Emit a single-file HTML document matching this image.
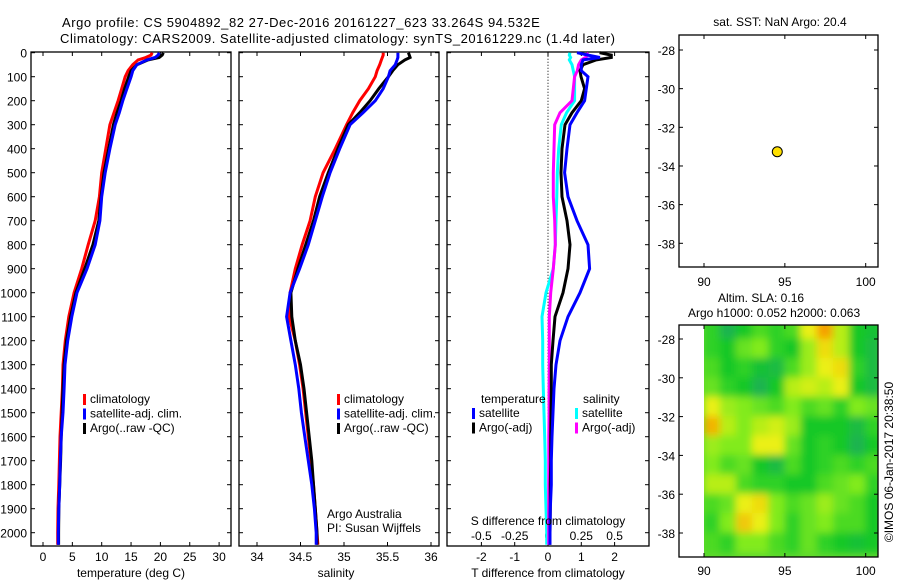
<!DOCTYPE html>
<html><head><meta charset="utf-8">
<style>
html,body{margin:0;padding:0;background:#fff;}
svg{display:block;font-family:"Liberation Sans",sans-serif;font-size:12px;}
.ttl{font-size:13px;letter-spacing:0.55px;}
</style></head>
<body>
<svg id="chart" width="900" height="580" viewBox="0 0 900 580">
<text class="ttl" x="62" y="27">Argo profile: CS 5904892_82 27-Dec-2016 20161227_623 33.264S 94.532E</text>
<text class="ttl" x="60" y="43">Climatology: CARS2009. Satellite-adjusted climatology: synTS_20161229.nc (1.4d later)</text>
<g id="p1"></g>
<g id="p2"></g>
<g id="p3"></g>
<g id="m1"></g>
<g id="m2"></g>
</svg>
<script>
const depths = [0,10,20,30,50,75,100,150,200,250,300,400,500,600,700,800,900,1000,1100,1200,1300,1400,1500,1600,1700,1800,1900,2000,2050];
const tempClim = [18.6,18.4,17.5,16.2,15.3,14.5,14.0,13.4,12.8,12.1,11.4,10.7,10.0,9.6,8.9,7.7,6.6,5.3,4.4,3.8,3.4,3.3,3.1,2.9,2.8,2.7,2.55,2.5,2.5];
const tempSat = [19.8,19.6,19.1,17.7,16.0,15.3,15.0,14.3,13.6,13.0,12.3,11.4,10.6,10.0,9.7,8.9,7.5,5.8,4.9,4.2,3.75,3.6,3.4,3.1,2.95,2.85,2.7,2.6,2.6];
const tempArgo = [20.5,20.3,19.8,17.9,16.0,15.0,14.6,13.9,13.3,12.6,12.0,11.2,10.4,9.9,9.5,8.5,7.1,5.6,4.7,4.0,3.6,3.4,3.25,3.1,3.0,2.85,2.7,2.65,2.65];
const salClim = [35.45,35.45,35.44,35.43,35.41,35.38,35.36,35.28,35.18,35.10,35.03,34.90,34.76,34.67,34.61,34.52,34.44,34.38,34.37,34.44,34.49,34.53,34.56,34.59,34.62,34.65,34.67,34.69,34.70];
const salSat = [35.62,35.62,35.62,35.61,35.59,35.53,35.51,35.45,35.36,35.22,35.07,34.95,34.84,34.75,34.67,34.59,34.49,34.38,34.34,34.39,34.44,34.48,34.51,34.55,34.59,34.63,34.66,34.68,34.68];
const salArgo = [35.74,35.75,35.76,35.70,35.62,35.56,35.51,35.40,35.30,35.18,35.05,34.93,34.82,34.72,34.65,34.56,34.47,34.39,34.40,34.44,34.50,34.54,34.57,34.60,34.63,34.65,34.67,34.69,34.69];
const dTSat = [0.87,1.2,1.56,1.05,1.0,1.0,1.2,1.15,1.1,0.87,0.66,0.57,0.5,0.6,0.87,1.2,1.25,0.96,0.6,0.36,0.24,0.18,0.15,0.12,0.1,0.1,0.07,0.06,0.06];
const dTArgo = [1.55,1.9,1.9,1.45,1.05,0.96,0.99,1.1,1.0,0.72,0.51,0.42,0.39,0.42,0.57,0.66,0.6,0.45,0.21,0.15,0.1,0.1,0.09,0.08,0.08,0.07,0.07,0.06,0.06];
const dSSat = [0.165,0.16,0.17,0.16,0.18,0.19,0.2,0.2,0.2,0.14,0.1,0.08,0.07,0.066,0.06,0.055,0.04,-0.015,-0.045,-0.04,-0.04,-0.035,-0.03,-0.025,-0.02,-0.02,-0.015,-0.01,-0.01];
const dSArgo = [0.29,0.3,0.28,0.25,0.23,0.22,0.2,0.19,0.18,0.09,0.05,0.045,0.04,0.04,0.05,0.055,0.04,0.02,0.01,0.01,0.01,0.008,0.008,0.006,0.006,0.005,0.005,0.005,0.005];
const depthTicks = [0,100,200,300,400,500,600,700,800,900,1000,1100,1200,1300,1400,1500,1600,1700,1800,1900,2000];
const tempTicks = [0,5,10,15,20,25,30];
const salTicks = [34,34.5,35,35.5,36];
const salTickLabels = ["34","34.5","35","35.5","36"];
const dTTicks = [-2,-1,0,1,2];
const dSTicks = [-0.5,-0.25,0,0.25,0.5];
const dSTickLabels = ["-0.5","-0.25","0","0.25","0.5"];
const latTicks = [-28,-30,-32,-34,-36,-38];
const lonTicks = [90,95,100];
const floatLon = 94.532, floatLat = -33.264;
const slaLats = [-27.5,-28.5,-29.5,-30.5,-31.5,-32.5,-33.5,-34.5,-35.5,-36.5,-37.5,-38.5];
const slaLons = [90.5,91.5,92.5,93.5,94.5,95.5,96.5,97.5,98.5,99.5,100.5];
const slaValues = [
[.35,.15,.3,.4,.35,.4,.7,.9,.6,.3,.25],
[.35,.3,.45,.5,.35,.3,.55,.75,.6,.3,.2],
[.4,.3,.35,.25,.2,.4,.55,.7,.75,.35,.2],
[.45,.35,.3,.15,.3,.6,.65,.6,.7,.3,.2],
[.7,.55,.5,.45,.4,.5,.4,.45,.35,.5,.45],
[.85,.6,.5,.6,.65,.55,.3,.3,.3,.2,.35],
[.55,.5,.5,.7,.7,.45,.3,.35,.3,.15,.3],
[.5,.4,.45,.3,.2,.4,.3,.35,.4,.35,.4],
[.6,.6,.4,.35,.35,.3,.3,.4,.45,.5,.35],
[.4,.45,.7,.75,.5,.4,.45,.55,.45,.4,.3],
[.35,.5,.8,.7,.5,.35,.45,.5,.4,.4,.3],
[.4,.35,.5,.5,.4,.35,.45,.35,.3,.25,.3]];

const NS="http://www.w3.org/2000/svg";
function mk(parent,tag,attrs,txt){const e=document.createElementNS(NS,tag);for(const k in attrs)e.setAttribute(k,attrs[k]);if(txt!==undefined)e.textContent=txt;parent.appendChild(e);return e;}
const TOP=52.7, PX100=24.0, BOT=546;
const yD = d => TOP + d*PX100/100;

function frame(g,x0,x1,y0,y1){
  const r=mk(g,'rect',{x:x0,y:y0,width:x1-x0,height:y1-y0,fill:'none',stroke:'#000','stroke-width':1.3});
  
}
function line(g,xs,ys,color,name){
  let d='';for(let i=0;i<xs.length;i++){d+=(i?'L':'M')+xs[i].toFixed(1)+','+ys[i].toFixed(1);}
  const p=mk(g,'path',{d:d,fill:'none',stroke:color,'stroke-width':3,'stroke-linejoin':'miter'});
  
}
function depthAxis(g,x0,x1,labels){
  depthTicks.forEach(d=>{
    const y=yD(d);
    mk(g,'line',{x1:x0,x2:x0+4,y1:y,y2:y,stroke:'#000'});
    mk(g,'line',{x1:x1-4,x2:x1,y1:y,y2:y,stroke:'#000'});
    if(labels){const t=mk(g,'text',{x:x0-4,y:y+5,'text-anchor':'end'},String(d));
      }
  });
}
function xTicks(g,vals,labs,sx,ly,top){
  vals.forEach((v,i)=>{const x=sx(v);
    mk(g,'line',{x1:x,x2:x,y1:BOT,y2:BOT-4,stroke:'#000'});
    if(top)mk(g,'line',{x1:x,x2:x,y1:TOP-0.7,y2:TOP+3.3,stroke:'#000'});
    if(ly){const t=mk(g,'text',{x:x,y:ly,'text-anchor':'middle'},labs[i]);
      }
  });
}
function legend(g,x,y,items){
  items.forEach((it,i)=>{const yy=y+i*14.5;
    const r=mk(g,'rect',{x:x,y:yy-9,width:3,height:11,fill:it[0]});
    
    const t=mk(g,'text',{x:x+7,y:yy},it[1]);
    
  });
}
const ys = depths.map(yD);
{const g=document.getElementById('p1');const x0=31,x1=231;const sx=t=>43+5.87*t;
 frame(g,x0,x1,TOP-0.7,BOT);depthAxis(g,x0,x1,true);xTicks(g,tempTicks,tempTicks.map(String),sx,561,true);
 line(g,tempClim.map(sx),ys,'#f00','temp-climatology-line');
 line(g,tempArgo.map(sx),ys,'#000','temp-argo-line');
 line(g,tempSat.map(sx),ys,'#00f','temp-satellite-line');
 legend(g,83,403,[['#f00','climatology'],['#00f','satellite-adj. clim.'],['#000','Argo(..raw -QC)']]);
 const t=mk(g,'text',{x:131,y:577,'text-anchor':'middle'},'temperature (deg C)');}
{const g=document.getElementById('p2');const x0=239,x1=439;const sx=s=>257+87*(s-34);
 frame(g,x0,x1,TOP-0.7,BOT);depthAxis(g,x0,x1,false);xTicks(g,salTicks,salTickLabels,sx,561,true);
 line(g,salClim.map(sx),ys,'#f00','sal-climatology-line');
 line(g,salArgo.map(sx),ys,'#000','sal-argo-line');
 line(g,salSat.map(sx),ys,'#00f','sal-satellite-line');
 legend(g,337,403,[['#f00','climatology'],['#00f','satellite-adj. clim.'],['#000','Argo(..raw -QC)']]);
 let t=mk(g,'text',{x:327,y:518},'Argo Australia');
 t=mk(g,'text',{x:327,y:532},'PI: Susan Wijffels');
 t=mk(g,'text',{x:336,y:577,'text-anchor':'middle'},'salinity');}
{const g=document.getElementById('p3');const x0=447,x1=649;const sxT=t=>548+33.3*t;const sxS=s=>548+133.2*s;
 frame(g,x0,x1,TOP-0.7,BOT);depthAxis(g,x0,x1,false);
 mk(g,'line',{x1:548,x2:548,y1:TOP,y2:BOT,stroke:'#000','stroke-dasharray':'1,2'});
 xTicks(g,dTTicks,dTTicks.map(String),sxT,561,true);
 dSTicks.forEach((v,i)=>{const t=mk(g,'text',{x:sxS(v),y:540,'text-anchor':'middle'},dSTickLabels[i]);});
 line(g,dSSat.map(sxS),ys,'#0ff','s-diff-satellite-line');
 line(g,dSArgo.map(sxS),ys,'#f0f','s-diff-argo-line');
 line(g,dTArgo.map(sxT),ys,'#000','t-diff-argo-line');
 line(g,dTSat.map(sxT),ys,'#00f','t-diff-satellite-line');
 let t=mk(g,'text',{x:481,y:403},'temperature');
 t=mk(g,'text',{x:583,y:403},'salinity');
 legend(g,472,417,[['#00f','satellite'],['#000','Argo(-adj)']]);
 legend(g,575,417,[['#0ff','satellite'],['#f0f','Argo(-adj)']]);
 t=mk(g,'text',{x:548,y:525,'text-anchor':'middle'},'S difference from climatology');
 t=mk(g,'text',{x:548,y:577,'text-anchor':'middle'},'T difference from climatology');}
function mapAxes(g,x0,x1,y0,y1,lx,ly0,lyScale,lx0,lxScale,xlabY){
  frame(g,x0,x1,y0,y1);
  latTicks.forEach(v=>{const y=ly0+(v-(-28))*lyScale;
    mk(g,'line',{x1:x0,x2:x0+4,y1:y,y2:y,stroke:'#000'});mk(g,'line',{x1:x1-4,x2:x1,y1:y,y2:y,stroke:'#000'});
    const t=mk(g,'text',{x:x0-4,y:y+5,'text-anchor':'end'},String(v));});
  lonTicks.forEach(v=>{const x=lx0+(v-90)*lxScale;
    mk(g,'line',{x1:x,x2:x,y1:y1,y2:y1-4,stroke:'#000'});mk(g,'line',{x1:x,x2:x,y1:y0,y2:y0+4,stroke:'#000'});
    const t=mk(g,'text',{x:x,y:xlabY,'text-anchor':'middle'},String(v));});
}
{const g=document.getElementById('m1');
 let t=mk(g,'text',{x:780,y:26,'text-anchor':'middle'},'sat. SST: NaN Argo: 20.4');
 mapAxes(g,679,878,35,267,0,50,-19.33,704,16.17,286);
 const c=mk(g,'circle',{cx:704+(floatLon-90)*16.17,cy:50+(floatLat+28)*-19.33,r:5,fill:'#ffe000',stroke:'#000','stroke-width':1});
 
 t=mk(g,'text',{x:718,y:302},'Altim. SLA: 0.16');
 t=mk(g,'text',{x:688,y:317},'Argo h1000: 0.052 h2000: 0.063');}
{const g=document.getElementById('m2');
 const defs=mk(g,'defs',{});
 const cp=mk(defs,'clipPath',{id:'hc'});mk(cp,'rect',{x:704,y:325,width:174,height:232});
 const f=mk(defs,'filter',{id:'bl',x:'-10%',y:'-10%',width:'120%',height:'120%'});mk(f,'feGaussianBlur',{stdDeviation:4});
 const stops=[[0,[40,160,120]],[0.3,[20,200,40]],[0.5,[130,235,30]],[0.7,[235,240,20]],[0.9,[245,160,0]]];
 function col(v){for(let i=1;i<stops.length;i++){if(v<=stops[i][0]){const a=stops[i-1],b=stops[i];const f=(v-a[0])/(b[0]-a[0]);
   return 'rgb('+a[1].map((c,k)=>Math.round(c+(b[1][k]-c)*f)).join(',')+')';}}return 'rgb(245,160,0)';}
 const lx=lon=>704+(lon-90)*16.17, ly=lat=>339+(lat+28)*-19.4;
 const cg=mk(g,'g',{'clip-path':'url(#hc)'});
 const bg=mk(cg,'rect',{x:704,y:325,width:174,height:232,fill:'#60d830'});
 const hg=mk(cg,'g',{filter:'url(#bl)'});
 slaValues.forEach((row,i)=>row.forEach((v,j)=>{
   const r=mk(hg,'rect',{x:lx(slaLons[j]-0.5)-0.5,y:ly(slaLats[i]+0.5)-0.5,width:16.17+1,height:19.4+1,fill:col(v)});
   
 }));
 mapAxes(g,679,878,325,557,0,339,-19.4,704,16.17,575);
 const t=mk(g,'text',{x:0,y:0,transform:'translate(893,462) rotate(-90)','text-anchor':'middle'},'©IMOS 06-Jan-2017 20:38:50');
 }
</script>
</body></html>
